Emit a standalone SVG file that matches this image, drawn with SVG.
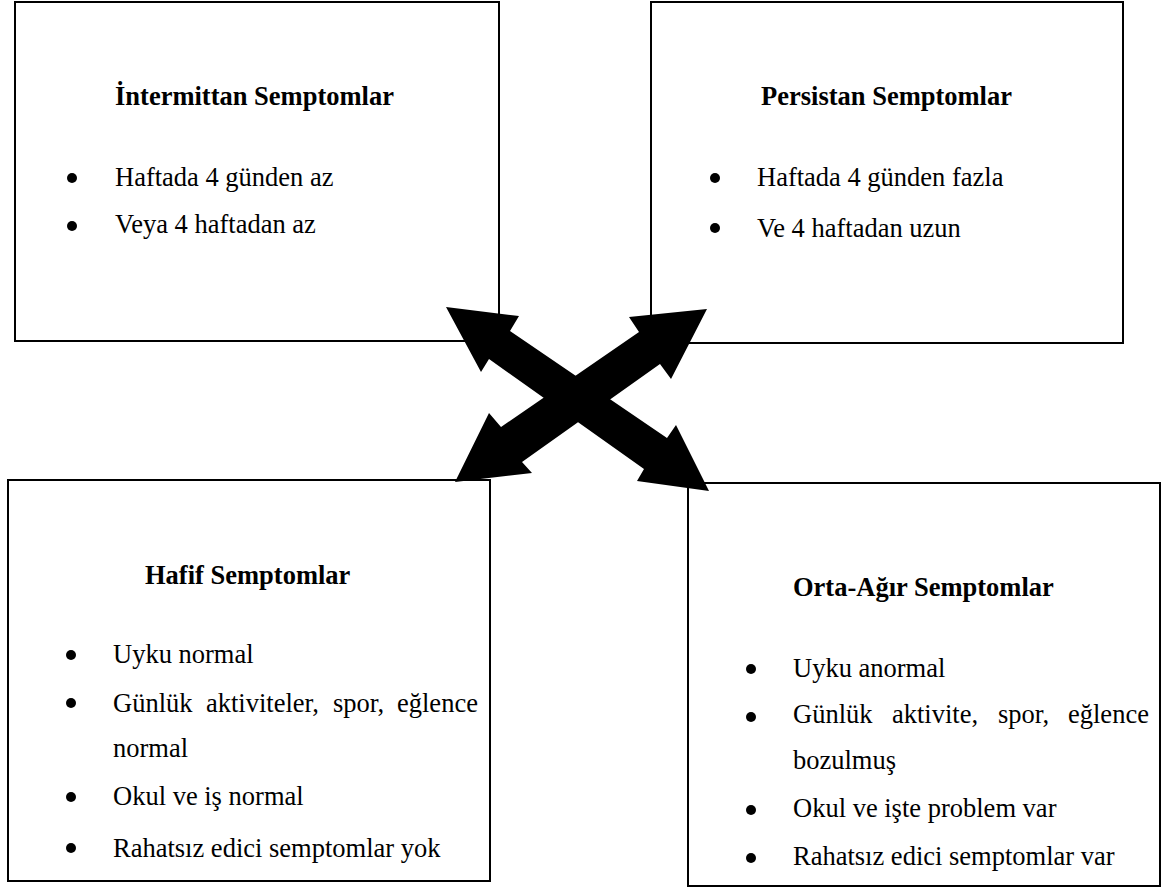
<svg xmlns="http://www.w3.org/2000/svg" width="1163" height="888" viewBox="0 0 1163 888">
<style>
.box{fill:#fff;stroke:#000;stroke-width:2}
.t{font-family:"Liberation Serif","Times New Roman",serif;font-size:26.5px;fill:#000}
.b{font-weight:bold}
.dot{fill:#000}
.arr{fill:#000;stroke:none}
</style>
<rect width="1163" height="888" fill="#fff"/>
<g id="intermittan">
<rect class="box" x="15" y="2" width="484" height="339"/>
<text class="t b" x="115" y="105">İntermittan Semptomlar</text>
<circle class="dot" cx="72" cy="178" r="5"/>
<text class="t" x="115" y="186">Haftada 4 günden az</text>
<circle class="dot" cx="72" cy="226" r="5"/>
<text class="t" x="115" y="233">Veya 4 haftadan az</text>
</g>
<g id="persistan">
<rect class="box" x="651" y="2" width="472" height="341"/>
<text class="t b" x="761" y="105">Persistan Semptomlar</text>
<circle class="dot" cx="715" cy="178" r="5"/>
<text class="t" x="757" y="186">Haftada 4 günden fazla</text>
<circle class="dot" cx="715" cy="228" r="5"/>
<text class="t" x="757" y="237">Ve 4 haftadan uzun</text>
</g>
<g id="hafif">
<rect class="box" x="8" y="480" width="482" height="401"/>
<text class="t b" x="145" y="584">Hafif Semptomlar</text>
<circle class="dot" cx="71" cy="655" r="5"/>
<text class="t" x="113" y="663">Uyku normal</text>
<circle class="dot" cx="71" cy="703" r="5"/>
<text class="t" y="712"><tspan x="113">Günlük</tspan><tspan x="206">aktiviteler,</tspan><tspan x="333">spor,</tspan><tspan x="397">eğlence</tspan></text>
<text class="t" x="113" y="757">normal</text>
<circle class="dot" cx="71" cy="797" r="5"/>
<text class="t" x="113" y="805">Okul ve iş normal</text>
<circle class="dot" cx="71" cy="848" r="5"/>
<text class="t" x="113" y="857">Rahatsız edici semptomlar yok</text>
</g>
<g id="orta-agir">
<rect class="box" x="688" y="483" width="472" height="403"/>
<text class="t b" x="793" y="596">Orta-Ağır Semptomlar</text>
<circle class="dot" cx="751" cy="669" r="5"/>
<text class="t" x="793" y="677">Uyku anormal</text>
<circle class="dot" cx="751" cy="717" r="5"/>
<text class="t" y="723"><tspan x="793">Günlük</tspan><tspan x="892">aktivite,</tspan><tspan x="998">spor,</tspan><tspan x="1068">eğlence</tspan></text>
<text class="t" x="793" y="769">bozulmuş</text>
<circle class="dot" cx="751" cy="810" r="5"/>
<text class="t" x="793" y="817">Okul ve işte problem var</text>
<circle class="dot" cx="751" cy="858" r="5"/>
<text class="t" x="793" y="865">Rahatsız edici semptomlar var</text>
</g>
<g id="connectors">
<polygon class="arr" points="446,307 519,316 510,331 667,438 676,425 709,491 637,481 644,469 489,359 481,372"/>
<polygon class="arr" points="707,309 671,379 660,364 522,462 532,473 455,482 489,413 501,427 639,332 629,317"/>
</g>
</svg>
